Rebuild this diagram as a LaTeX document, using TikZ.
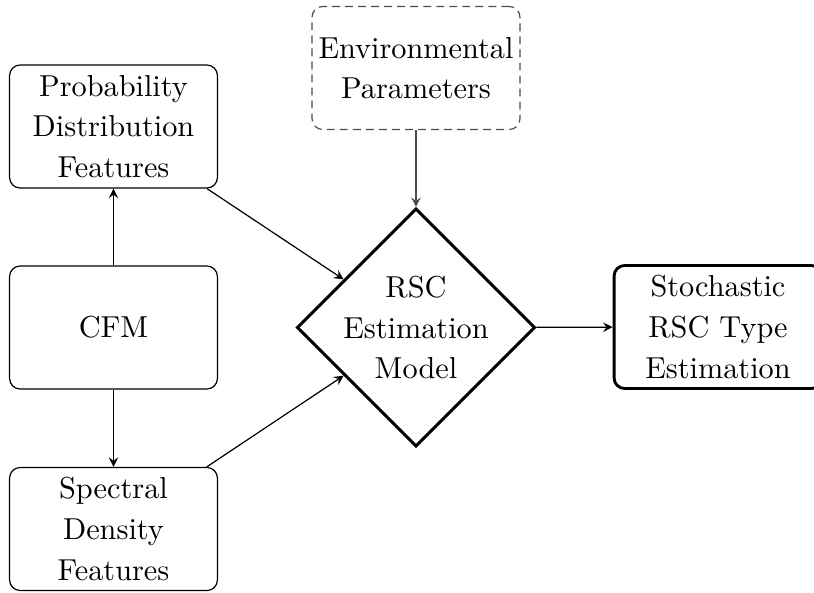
\documentclass[tikz,border=0pt]{standalone}
\usetikzlibrary{shapes.geometric,arrows}
\begin{document}
\begin{tikzpicture}[x=0.33pt,y=-0.33pt,
  every node/.style={font=\fontsize{10}{13.4}\selectfont, align=center, inner sep=0pt},
  block/.style={draw, rounded corners=3.5pt, minimum width=68.6pt, minimum height=40.6pt, line width=0.4pt},
  outblock/.style={block, line width=0.95pt},
  envblock/.style={block, draw=black!70, dash pattern=on 2.6pt off 1.7pt},
  decision/.style={draw, diamond, aspect=1, minimum width=78.6pt, minimum height=78.6pt, line width=0.95pt},
  flow/.style={-stealth, line width=0.4pt},
  envflow/.style={flow, draw=black!70}]
  \useasboundingbox (0,0) rectangle (814,593);

  % feature extraction column
  \node[block] (prob) at (113.5,126.5) {Probability\\Distribution\\Features};
  \node[block] (cfm) at (113.5,327.5) {CFM};
  \node[block] (spec) at (113.5,529) {Spectral\\Density\\Features};

  % side information
  \node[envblock] (env) at (416,68) {Environmental\\Parameters};

  % estimator and its output
  \node[decision] (model) at (416,327.5) {};
  \node (modeltext) at (model.center) {RSC\\Estimation\\Model};
  \node[outblock] (out) at (718,327) {Stochastic\\RSC Type\\Estimation};

  % connectors
  \draw[flow] (cfm) -- (prob);
  \draw[flow] (cfm) -- (spec);
  \draw[flow] (prob) -- (model);
  \draw[flow] (spec) -- (model);
  \draw[envflow] (env) -- (model);
  \draw[flow] (model) -- (out);
\end{tikzpicture}
\end{document}
